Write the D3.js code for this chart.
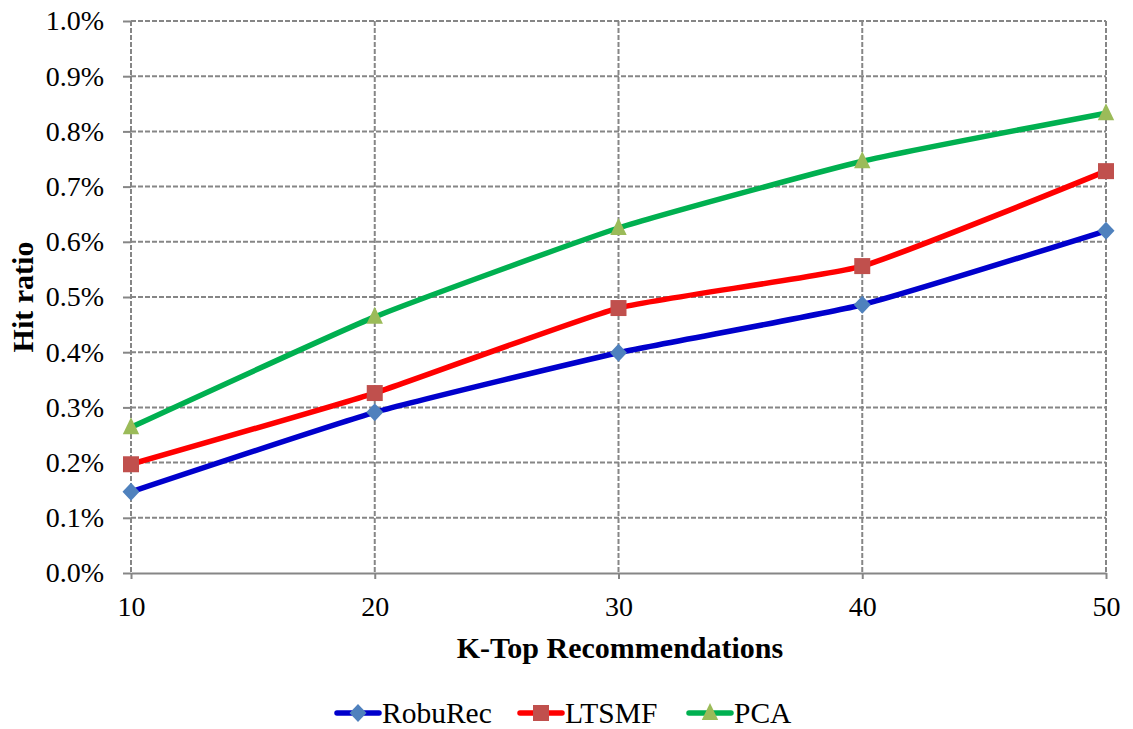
<!DOCTYPE html>
<html><head><meta charset="utf-8">
<script src="https://cdn.jsdelivr.net/npm/d3@7"></script>
<style>body{margin:0;background:#fff} svg text{font-family:"Liberation Serif","Times New Roman",serif;}</style>
</head><body><svg id="c" width="1133" height="729"></svg>
<script>
const categories = [10, 20, 30, 40, 50];
const robuRec = [0.147, 0.291, 0.399, 0.486, 0.620];
const ltsmf   = [0.197, 0.326, 0.480, 0.556, 0.728];
const pca     = [0.264, 0.464, 0.625, 0.746, 0.833];
const yTicks = [0,0.1,0.2,0.3,0.4,0.5,0.6,0.7,0.8,0.9,1.0];
const seriesNames = ["RobuRec","LTSMF","PCA"];

const diamond = {draw(ctx){ const w = 8.5, h = 9; ctx.moveTo(0,-h); ctx.lineTo(w,0); ctx.lineTo(0,h); ctx.lineTo(-w,0); ctx.closePath(); }};
const square = {draw(ctx){ const s = 8; ctx.moveTo(-s,-s); ctx.lineTo(s,-s); ctx.lineTo(s,s); ctx.lineTo(-s,s); ctx.closePath(); }};
const triangle = {draw(ctx){ ctx.moveTo(0,-10); ctx.lineTo(8.2,7); ctx.lineTo(-8.2,7); ctx.closePath(); }};

const series = [
  {name: seriesNames[0], values: robuRec, line: "#0000CC", marker: "#4F81BD", shape: diamond},
  {name: seriesNames[1], values: ltsmf, line: "#FF0000", marker: "#C0504D", shape: square},
  {name: seriesNames[2], values: pca, line: "#00B050", marker: "#9BBB59", shape: triangle}
];

const svg = d3.select("#c");
const L = 131, R = 1106, T = 21, B = 573;
const x = d3.scaleLinear().domain([10, 50]).range([L, R]);
const y = d3.scaleLinear().domain([0, 1.0]).range([B, T]);
const grid = "#868686";

svg.append("g").selectAll("line").data(yTicks.filter(d => d > 0)).join("line")
  .attr("x1", L).attr("x2", R).attr("y1", d => y(d)).attr("y2", d => y(d))
  .attr("stroke", grid).attr("stroke-width", 2).attr("stroke-dasharray", "5,2");
svg.append("g").selectAll("line").data(categories).join("line")
  .attr("x1", d => x(d)).attr("x2", d => x(d)).attr("y1", T).attr("y2", B)
  .attr("stroke", grid).attr("stroke-width", 2).attr("stroke-dasharray", "5,2");

const yAxis = svg.append("g").attr("transform", `translate(${L},0)`)
  .call(d3.axisLeft(y).tickValues(yTicks).tickSize(8).tickPadding(19).tickFormat(d => d.toFixed(1) + "%"));
yAxis.attr("font-family", null).attr("font-size", null);
yAxis.select(".domain").remove();
yAxis.selectAll(".tick line").attr("stroke", grid).attr("stroke-width", 2);
yAxis.selectAll("text").style("font-size", "28px").attr("fill", "#000");

const xAxis = svg.append("g").attr("transform", `translate(0,${B})`)
  .call(d3.axisBottom(x).tickValues(categories).tickSize(6).tickPadding(17).tickSizeOuter(0));
xAxis.attr("font-family", null).attr("font-size", null);
xAxis.select(".domain").attr("stroke", grid).attr("stroke-width", 2);
xAxis.selectAll(".tick line").attr("stroke", grid).attr("stroke-width", 2);
xAxis.selectAll("text").style("font-size", "28px").attr("fill", "#000");

svg.append("text").attr("x", 620).attr("y", 658).attr("text-anchor", "middle")
  .style("font-size", "30px").attr("font-weight", "bold").text("K-Top Recommendations");
svg.append("text").attr("transform", `translate(33,${(T + B) / 2}) rotate(-90)`).attr("text-anchor", "middle")
  .style("font-size", "30px").attr("font-weight", "bold").text("Hit ratio");

const line = d3.line().x((d, i) => x(categories[i])).y(d => y(d)).curve(d3.curveCardinal.tension(0.55));
series.forEach(s => {
  svg.append("path").datum(s.values).attr("d", line).attr("fill", "none")
    .attr("stroke", s.line).attr("stroke-width", 5.5).attr("stroke-linejoin", "round");
});
series.forEach(s => {
  svg.append("g").selectAll("path").data(s.values).join("path")
    .attr("transform", (d, i) => `translate(${x(categories[i])},${y(d)})`)
    .attr("d", d3.symbol().type(s.shape))
    .attr("fill", s.marker);
});

const legendX = [335, 518, 687];
const ly = 713;
series.forEach((s, i) => {
  const g = svg.append("g").attr("transform", `translate(${legendX[i]},${ly})`);
  g.append("line").attr("x1", 2).attr("x2", 44).attr("y1", 0).attr("y2", 0)
    .attr("stroke", s.line).attr("stroke-width", 5.5).attr("stroke-linecap", "round");
  g.append("path").attr("transform", "translate(23,0)")
    .attr("d", d3.symbol().type(s.shape)).attr("fill", s.marker);
  g.append("text").attr("x", 47).attr("y", 10).style("font-size", "29.5px").text(s.name);
});
</script></body></html>
